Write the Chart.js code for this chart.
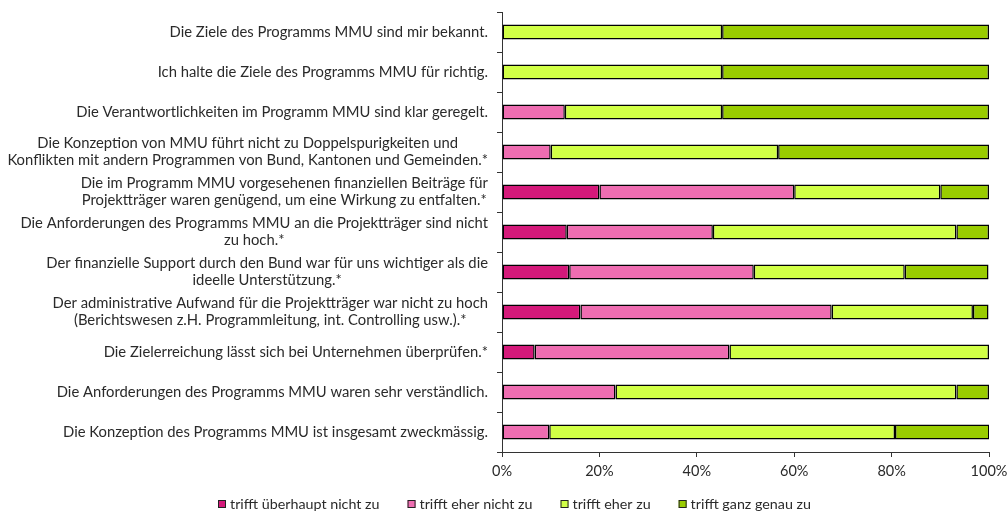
<!DOCTYPE html>
<html>
<head>
<meta charset="utf-8">
<script src="https://cdn.jsdelivr.net/npm/chart.js@4/dist/chart.umd.min.js"></script>
<style>
  html, body { margin: 0; padding: 0; background: #fff; }
  #wrap { width: 1007px; height: 515px; }
</style>
</head>
<body>
<div id="wrap"><canvas id="mmuChart" width="1007" height="515"></canvas></div>
<script>
const statements = [
  ['Die Ziele des Programms MMU sind mir bekannt.'],
  ['Ich halte die Ziele des Programms MMU für richtig.'],
  ['Die Verantwortlichkeiten im Programm MMU sind klar geregelt.'],
  ['Die Konzeption von MMU führt nicht zu Doppelspurigkeiten und', 'Konflikten mit andern Programmen von Bund, Kantonen und Gemeinden.*'],
  ['Die im Programm MMU vorgesehenen finanziellen Beiträge für', 'Projektträger waren genügend, um eine Wirkung zu entfalten.*'],
  ['Die Anforderungen des Programms MMU an die Projektträger sind nicht', 'zu hoch.*'],
  ['Der finanzielle Support durch den Bund war für uns wichtiger als die', 'ideelle Unterstützung.*'],
  ['Der administrative Aufwand für die Projektträger war nicht zu hoch', '(Berichtswesen z.H. Programmleitung, int. Controlling usw.).*'],
  ['Die Zielerreichung lässt sich bei Unternehmen überprüfen.*'],
  ['Die Anforderungen des Programms MMU waren sehr verständlich.'],
  ['Die Konzeption des Programms MMU ist insgesamt zweckmässig.']
];

const ueberhauptNicht = [0, 0, 0, 0, 20, 13.3, 13.8, 16.1, 6.7, 0, 0];
const eherNicht       = [0, 0, 12.9, 10, 40, 30, 37.9, 51.6, 40, 23.3, 9.7];
const eherZu          = [45.2, 45.2, 32.3, 46.7, 30, 50, 31.0, 29.0, 53.3, 70, 71.0];
const ganzGenau       = [54.8, 54.8, 54.8, 43.3, 10, 6.7, 17.2, 3.2, 0, 6.7, 19.4];

const xTicks = [0, 20, 40, 60, 80, 100];

const FONT = 'Lato, "Open Sans", sans-serif';
const TEXT = '#2a2a2a';

// statement labels: block right aligned, lines centred inside the block
const statementLabels = {
  id: 'statementLabels',
  afterDraw(chart) {
    const ctx = chart.ctx;
    const yScale = chart.scales.y;
    const right = chart.chartArea.left - 14;
    const lineH = 17;
    ctx.save();
    ctx.font = '14.8px ' + FONT;
    ctx.fillStyle = TEXT;
    ctx.textAlign = 'center';
    ctx.textBaseline = 'middle';
    statements.forEach((lines, i) => {
      const maxW = Math.max(...lines.map(l => ctx.measureText(l).width));
      const cx = right - maxW / 2;
      const cy = yScale.getPixelForTick(i);
      lines.forEach((l, j) => {
        ctx.fillText(l, cx, cy + lineH * (j - (lines.length - 1) / 2));
      });
    });
    ctx.restore();
  }
};

// legend row under the axis (built-in one adds too much vertical padding)
const bottomLegend = {
  id: 'bottomLegend',
  afterDraw(chart) {
    const ctx = chart.ctx;
    const sets = chart.data.datasets;
    const box = 8, gap = 4, spacing = 28, y = 504;
    ctx.save();
    ctx.font = '14.3px ' + FONT;
    ctx.textBaseline = 'middle';
    ctx.textAlign = 'left';
    const widths = sets.map(d => box + gap + ctx.measureText(d.label).width);
    const total = widths.reduce((a, b) => a + b, 0) + spacing * (sets.length - 1);
    let x = 514.5 - total / 2;
    sets.forEach((d, i) => {
      ctx.fillStyle = d.backgroundColor;
      ctx.fillRect(x, y - box / 2, box, box);
      ctx.strokeStyle = '#222';
      ctx.lineWidth = 1;
      ctx.strokeRect(x + 0.5, y - box / 2 + 0.5, box - 1, box - 1);
      ctx.fillStyle = TEXT;
      ctx.fillText(d.label, x + box + gap, y);
      x += widths[i] + spacing;
    });
    ctx.restore();
  }
};

function makeSet(label, data, color) {
  return {
    label: label,
    data: data,
    backgroundColor: color,
    borderColor: '#000',
    borderWidth: 1.5,
    borderSkipped: false,
    barPercentage: 0.38,
    categoryPercentage: 1
  };
}

document.addEventListener('DOMContentLoaded', () => {
  const ctx = document.getElementById('mmuChart').getContext('2d');
  new Chart(ctx, {
    type: 'bar',
    data: {
      labels: statements.map(s => s.join(' ')),
      datasets: [
        makeSet('trifft überhaupt nicht zu', ueberhauptNicht, '#D4197A'),
        makeSet('trifft eher nicht zu', eherNicht, '#EE6DB1'),
        makeSet('trifft eher zu', eherZu, '#D1FF46'),
        makeSet('trifft ganz genau zu', ganzGenau, '#99CC00')
      ]
    },
    options: {
      indexAxis: 'y',
      responsive: false,
      animation: false,
      layout: { padding: { top: 12, right: 18, left: 0, bottom: 33 } },
      scales: {
        x: {
          stacked: true,
          min: 0,
          max: 100,
          afterBuildTicks(scale) {
            scale.ticks = xTicks.map(v => ({ value: v }));
          },
          afterFit(scale) {
            scale.height = 30;
            scale.paddingRight = 0;
          },
          ticks: {
            callback: v => v + '%',
            color: TEXT,
            font: { family: FONT, size: 14.5 },
            padding: 6,
            maxRotation: 0
          },
          grid: {
            drawOnChartArea: false,
            drawTicks: true,
            tickLength: 5,
            color: '#333'
          },
          border: { display: true, color: '#333', width: 1 }
        },
        y: {
          stacked: true,
          afterFit(scale) { scale.width = 502; },
          ticks: { display: false },
          grid: {
            drawOnChartArea: false,
            drawTicks: true,
            tickLength: 5,
            offset: true,
            color: '#333'
          },
          border: { display: true, color: '#333', width: 1 }
        }
      },
      plugins: {
        legend: { display: false },
        tooltip: { enabled: false }
      }
    },
    plugins: [statementLabels, bottomLegend]
  });
});
</script>
</body>
</html>
